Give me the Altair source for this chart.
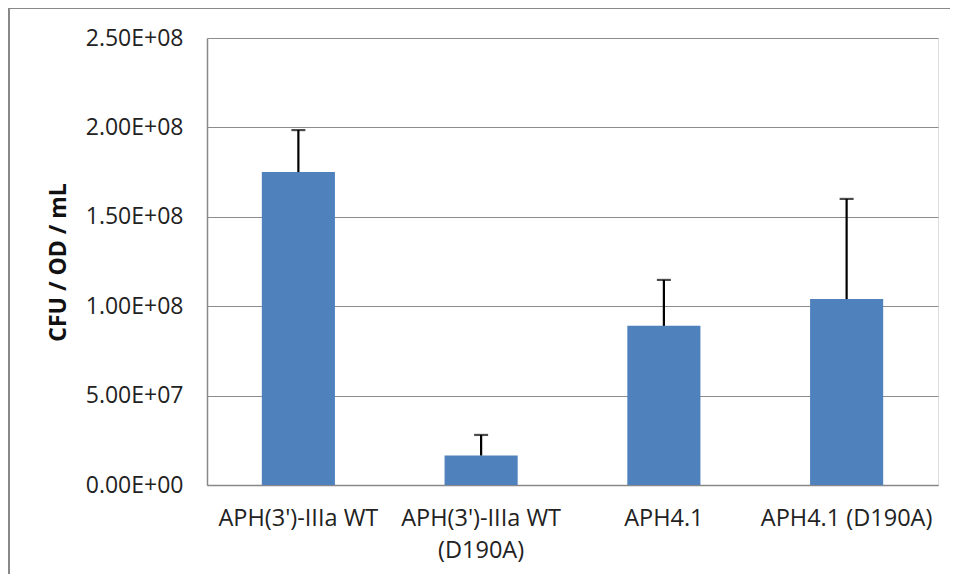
import altair as alt
import pandas as pd

categories = ["APH(3')-IIIa WT", "APH(3')-IIIa WT (D190A)", "APH4.1", "APH4.1 (D190A)"]
values = [1.75e8, 1.65e7, 8.9e7, 1.04e8]
upper = [1.985e8, 2.8e7, 1.147e8, 1.6e8]
tick_values = [0, 5e7, 1e8, 1.5e8, 2e8, 2.5e8]
tick_labels = ["0.00E+00", "5.00E+07", "1.00E+08", "1.50E+08", "2.00E+08", "2.50E+08"]

df = pd.DataFrame({"cat": categories, "val": values, "up": upper})

ylabel_expr = " : ".join(
    f"datum.value == {v} ? '{l}'" for v, l in zip(tick_values, tick_labels)
) + " : ''"
xlabel_expr = "datum.label == \"APH(3')-IIIa WT (D190A)\" ? [\"APH(3')-IIIa WT\", '(D190A)'] : datum.label"

FONT = "Open Sans"

x = alt.X(
    "cat:N",
    sort=categories,
    title=None,
    scale=alt.Scale(paddingInner=0.6, paddingOuter=0.3),
    axis=alt.Axis(
        labelAngle=0, labelFontSize=23.5, labelFont=FONT, labelColor="#222222",
        labelPadding=21, ticks=False, domainColor="#888888", domainWidth=1.5,
        labelExpr=xlabel_expr, labelLineHeight=32, labelBaseline="top",
    ),
)
y_scale = alt.Scale(domain=[0, 2.5e8], nice=False)

bars = alt.Chart(df).mark_bar(color="#4F81BD").encode(
    x=x,
    y=alt.Y(
        "val:Q", scale=y_scale,
        title="CFU / OD / mL",
        axis=alt.Axis(
            values=tick_values, labelExpr=ylabel_expr, labelFontSize=23, labelFont=FONT,
            labelColor="#222222", labelPadding=24, ticks=False, domainColor="#888888",
            domainWidth=1.5, gridColor="#8c8c8c", gridWidth=1.2,
            titleFont=FONT, titleFontSize=23, titleFontWeight="bold", titleColor="#111111",
            titleX=-149, titleY=224, titleAngle=-90, titleAlign="center", titleBaseline="middle",
        ),
    ),
)

err = alt.Chart(df).mark_rule(color="black", strokeWidth=2.2).encode(
    x=alt.X("cat:N", sort=categories),
    y=alt.Y("val:Q", scale=y_scale),
    y2="up:Q",
)
cap = alt.Chart(df).mark_tick(color="black", thickness=2.2, size=14, orient="horizontal").encode(
    x=alt.X("cat:N", sort=categories),
    y=alt.Y("up:Q", scale=y_scale),
)

frame_v = alt.Chart(df).mark_rule(color="#888888", strokeWidth=2).encode(
    x=alt.value(-198), y=alt.value(-30), y2=alt.value(600)
)
frame_h = alt.Chart(df).mark_rule(color="#888888", strokeWidth=2).encode(
    x=alt.value(-198), x2=alt.value(800), y=alt.value(-30)
)

chart = alt.layer(bars, err, cap, frame_v, frame_h).properties(
    width=731, height=447,
    autosize=alt.AutoSizeParams(type="none"),
    padding={"left": 199, "top": 30, "right": 12, "bottom": 89},
).configure_view(strokeWidth=0).configure(background="white")

chart.save("out.html", embed_options={"renderer": "svg", "actions": False})
